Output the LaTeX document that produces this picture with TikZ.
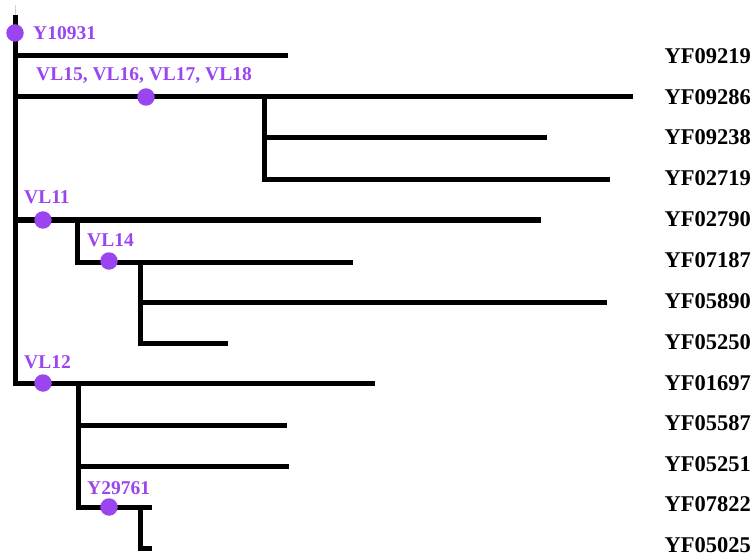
\documentclass[tikz,border=0pt]{standalone}
\usepackage{fontspec}
\setmainfont{Liberation Serif}
\definecolor{hapviolet}{HTML}{9B45F0}

\begin{document}
\begin{tikzpicture}[
    x=1pt, y=-1pt,
    branch/.style={line width=5pt, line join=miter},
    snpdot/.style={circle, fill=hapviolet, minimum size=17.5pt, inner sep=0pt},
    snplabel/.style={text=hapviolet, font=\fontsize{19.5}{20}\selectfont\bfseries, anchor=base west, inner sep=0pt},
    tip/.style={font=\fontsize{22.5}{24}\selectfont\bfseries, anchor=east, inner sep=0pt}
]
\useasboundingbox (0,0) rectangle (752,556);
% Forks
\coordinate (top) at (15,5);
\coordinate (root) at (15,15);
\coordinate (f1) at (264,97);
\coordinate (f2) at (77,220);
\coordinate (f3) at (140,262);
\coordinate (f4) at (78,383);
\coordinate (f5) at (140,507);
% Tip labels and line ends
\foreach \tipname/\y/\xend in {YF09219/56/288, YF09286/97/633, YF09238/138/547,
    YF02719/180/610, YF02790/220/541, YF07187/262/353, YF05890/302/607,
    YF05250/343/228, YF01697/383/375, YF05587/425/287, YF05251/466/289,
    YF07822/507/152, YF05025/548/152} {
  \coordinate (e\tipname) at (\xend,\y);
}
\foreach \tipname/\y in {YF09219/56, YF09286/97, YF09238/137, YF02719/178,
    YF02790/219, YF07187/260, YF05890/301, YF05250/342, YF01697/383,
    YF05587/423, YF05251/464, YF07822/504, YF05025/545} {
  \node[tip] (\tipname) at (751,\y) {\tipname};
}
% Branches
\draw[gray!35, line width=1pt] (top) -- (root);
\draw[branch] (root) |- (eYF01697);
\draw[branch] (root |- eYF09219) -- (eYF09219);
\draw[branch] (root |- eYF09286) -- (eYF09286);
\draw[branch] (f1) |- (eYF02719);
\draw[branch] (f1 |- eYF09238) -- (eYF09238);
\draw[branch] (root |- eYF02790) -- (eYF02790);
\draw[branch] (f2) |- (eYF07187);
\draw[branch] (f3) |- (eYF05250);
\draw[branch] (f3 |- eYF05890) -- (eYF05890);
\draw[branch] (f4) |- (eYF07822);
\draw[branch] (f4 |- eYF05587) -- (eYF05587);
\draw[branch] (f4 |- eYF05251) -- (eYF05251);
\draw[branch] (f5) |- (eYF05025);
% SNP markers
\node[snpdot] (dY10931) at (15,33) {};
\node[snpdot] (dVL15) at (146,97) {};
\node[snpdot] (dVL11) at (43,220) {};
\node[snpdot] (dVL14) at (109,261) {};
\node[snpdot] (dVL12) at (43,383) {};
\node[snpdot] (dY29761) at (109,507) {};
\node[snplabel] (lY10931) at (33,40) {Y10931};
\node[snplabel] (lVL15) at (36,81) {VL15, VL16, VL17, VL18};
\node[snplabel] (lVL11) at (24,204) {VL11};
\node[snplabel] (lVL14) at (87,247) {VL14};
\node[snplabel] (lVL12) at (24,368) {VL12};
\node[snplabel] (lY29761) at (87,494) {Y29761};
\end{tikzpicture}
\end{document}
